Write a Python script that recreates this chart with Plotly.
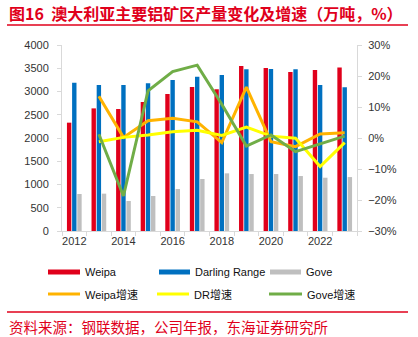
import plotly.graph_objects as go

years = [2012, 2013, 2014, 2015, 2016, 2017, 2018, 2019, 2020, 2021, 2022, 2023]
weipa = [2330, 2637, 2623, 2773, 2945, 3096, 3046, 3547, 3504, 3418, 3461, 3518]
darling = [3189, 3139, 3139, 3175, 3246, 3318, 3354, 3476, 3483, 3476, 3139, 3089]
gove = [796, 803, 645, 753, 903, 1118, 1240, 1225, 1225, 1182, 1146, 1160]

growth_years = years[1:]
weipa_g = [13.5, 0.2, 5.6, 6.4, 5.2, -1.5, 16.4, -1.2, -2.8, 1.3, 1.7]
dr_g = [-1.2, 0.2, 1.0, 2.0, 2.5, 0.8, 3.5, 0.6, -0.1, -9.2, -1.5]
gove_g = [1.2, -18.7, 15.2, 21.4, 23.5, 10.9, -2.6, 1.0, -4.4, -2.0, 0.6]

RED = "#E0001B"
BLUE = "#0070C0"
GRAY = "#BFBFBF"
ORANGE = "#FFB300"
YELLOW = "#FFFF00"
GREEN = "#70AD47"

W, H = 418, 337
L, R, T, B = 62, 357, 45, 231


def px(x):
    return (x - L) / (R - L)


def py(y):
    return (B - y) / (B - T)


fig = go.Figure()
for name, vals, col in [("Weipa", weipa, RED), ("Darling Range", darling, BLUE), ("Gove", gove, GRAY)]:
    fig.add_trace(go.Bar(x=years, y=vals, name=name, marker=dict(color=col, line=dict(width=0)),
                         offsetgroup=name, showlegend=False))
for name, vals, col in [("Weipa增速", weipa_g, ORANGE), ("DR增速", dr_g, YELLOW), ("Gove增速", gove_g, GREEN)]:
    fig.add_trace(go.Scatter(x=growth_years, y=vals, name=name, mode="lines",
                             line=dict(color=col, width=3), yaxis="y2", showlegend=False))

axis_col = "#D9D9D9"
tick_font = dict(family="Liberation Sans, Arial, sans-serif", size=11, color="#333333")
fig.update_layout(
    width=W, height=H,
    margin=dict(l=L, r=W - R, t=T, b=H - B, pad=0),
    paper_bgcolor="white", plot_bgcolor="white",
    bargap=0.37, bargroupgap=0.15,
    showlegend=False,
    font=dict(family="Liberation Sans, Noto Sans CJK SC, sans-serif"),
    xaxis=dict(range=[2011.5, 2023.5], tickvals=[2012, 2014, 2016, 2018, 2020, 2022],
               ticktext=[str(v) for v in [2012, 2014, 2016, 2018, 2020, 2022]],
               ticks="outside", ticklen=0, showgrid=False, zeroline=False,
               showline=True, linecolor=axis_col, linewidth=1, tickfont=tick_font,
               minor=dict(tickvals=[y - 0.5 for y in years] + [2023.5], ticks="outside",
                          ticklen=4, tickcolor=axis_col, showgrid=False)),
    yaxis=dict(range=[0, 4000], dtick=500, showgrid=False, zeroline=False, showline=True,
               linecolor=axis_col, linewidth=1, ticks="outside", ticklen=4, tickcolor=axis_col,
               tickfont=tick_font, ticklabelstandoff=6),
    yaxis2=dict(range=[-30, 30], dtick=10, overlaying="y", side="right", showgrid=False,
                zeroline=False, showline=True, linecolor=axis_col, linewidth=1, ticks="outside",
                ticklen=4, tickcolor=axis_col, ticksuffix="%", tickfont=tick_font,
                ticklabelstandoff=4),
)

shapes = []
annotations = []
# title
annotations.append(dict(text="<b>图16  澳大利亚主要铝矿区产量变化及增速（万吨，%）</b>",
                        xref="paper", yref="paper", x=px(7), y=py(13), xanchor="left", yanchor="middle",
                        showarrow=False, font=dict(family="Noto Sans CJK SC", size=16, color=RED)))
shapes.append(dict(type="line", xref="paper", yref="paper", x0=px(7), x1=px(408), y0=py(25), y1=py(25),
                   line=dict(color=RED, width=1.5)))
# footer
shapes.append(dict(type="line", xref="paper", yref="paper", x0=px(7), x1=px(408), y0=py(312), y1=py(312),
                   line=dict(color=RED, width=1.5)))
annotations.append(dict(text="资料来源：钢联数据，公司年报，东海证券研究所",
                        xref="paper", yref="paper", x=px(7), y=py(326), xanchor="left", yanchor="middle",
                        showarrow=False, font=dict(family="Noto Sans CJK SC", size=14.5, color=RED)))

# legend
leg_font = dict(family="Liberation Sans, Noto Sans CJK SC, sans-serif", size=11, color="#111111")
leg_items = [
    ("Weipa", RED, "bar", 48, 80, 272),
    ("Darling Range", BLUE, "bar", 159, 190, 272),
    ("Gove", GRAY, "bar", 270, 301, 272),
    ("Weipa增速", ORANGE, "line", 48, 80, 294),
    ("DR增速", YELLOW, "line", 157, 189, 294),
    ("Gove增速", GREEN, "line", 269, 302, 294),
]
for name, col, kind, x0, x1, yy in leg_items:
    if kind == "bar":
        shapes.append(dict(type="rect", xref="paper", yref="paper", x0=px(x0), x1=px(x1),
                           y0=py(yy - 2.5), y1=py(yy + 2.5), fillcolor=col, line=dict(width=0)))
    else:
        shapes.append(dict(type="line", xref="paper", yref="paper", x0=px(x0), x1=px(x1),
                           y0=py(yy), y1=py(yy), line=dict(color=col, width=3)))
    annotations.append(dict(text=name, xref="paper", yref="paper", x=px(x1 + 3), y=py(yy),
                            xanchor="left", yanchor="middle", showarrow=False, font=leg_font))

fig.update_layout(shapes=shapes, annotations=annotations)
fig.write_html("out.html")
